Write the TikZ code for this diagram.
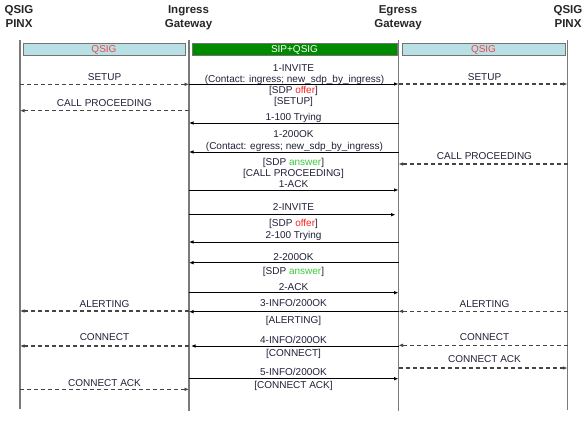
\documentclass[tikz,border=0pt]{standalone}
\usepackage{fontspec}
\setmainfont{Liberation Sans}
\usetikzlibrary{arrows.meta}
\definecolor{txt}{HTML}{202038}
\definecolor{life}{HTML}{7A7A7A}
\definecolor{qbar}{HTML}{B9E0E4}
\definecolor{qred}{HTML}{F04848}
\definecolor{sipgreen}{HTML}{008A00}
\definecolor{offerred}{HTML}{FF2020}
\definecolor{answergreen}{HTML}{3CC83C}
\definecolor{dashc}{HTML}{454545}
\begin{document}
\begin{tikzpicture}[x=1pt,y=-1pt,
  hdr/.style={font=\fontsize{11.5}{13}\selectfont\bfseries,text=black!85,inner sep=0pt,anchor=base},
  lbl/.style={font=\fontsize{10}{11}\selectfont,text=txt,inner sep=0pt,anchor=base},
  lifeline/.style={draw=life,line width=1.1pt},
  bar/.style={draw=black!55,line width=0.9pt},
  sol/.style={draw=black,line width=0.9pt,-{Latex[length=4.5pt,width=3.6pt]}},
  dsh/.style={draw=dashc,line width=1.1pt,dash pattern=on 4pt off 3pt,-{Latex[length=4.5pt,width=3.6pt]}}]
\useasboundingbox (0,0) rectangle (588,420);
% headers
\node[hdr] (h1a) at (19,14) {QSIG};
\node[hdr] (h1b) at (19,28) {PINX};
\node[hdr] (h2a) at (188.5,14) {Ingress};
\node[hdr] (h2b) at (188.5,28) {Gateway};
\node[hdr] (h3a) at (398,14) {Egress};
\node[hdr] (h3b) at (398,28) {Gateway};
\node[hdr] (h4a) at (568,14) {QSIG};
\node[hdr] (h4b) at (568,28) {PINX};
% lifelines
\coordinate (pa) at (20,40);
\coordinate (ig) at (189,40);
\coordinate (eg) at (398.5,40);
\coordinate (pb) at (567.5,40);
\draw[lifeline] (pa) -- (pa |- 0,409);
\draw[lifeline] (ig) -- (ig |- 0,410.5);
\draw[lifeline] (eg) -- (eg |- 0,410.5);
\draw[lifeline] (pb) -- (pb |- 0,409.5);
% bars
\draw[bar,fill=qbar] (23,43) rectangle (185,55);
\draw[bar,fill=sipgreen] (192,43) rectangle (397,55);
\draw[bar,fill=qbar] (402,43) rectangle (565,55);
\node[lbl,text=qred,anchor=center] (b1) at (104,49.5) {QSIG};
\node[lbl,text=white,anchor=center] (b2) at (294.5,49.5) {SIP+QSIG};
\node[lbl,text=qred,anchor=center] (b3) at (483.5,49.5) {QSIG};
% left side QSIG
\node[lbl] (l1) at (104.5,80.8) {SETUP};
\draw[dsh] (pa |- 0,84.3) -- (ig |- 0,84.3);
\node[lbl] (l2) at (104.5,106.3) {CALL PROCEEDING};
\draw[dsh] (ig |- 0,110.7) -- (pa |- 0,110.7);
\node[lbl] (l3) at (104.5,307) {ALERTING};
\draw[dsh] (ig |- 0,311) -- (pa |- 0,311);
\node[lbl] (l4) at (104.5,340.3) {CONNECT};
\draw[dsh] (ig |- 0,346) -- (pa |- 0,346);
\node[lbl] (l5) at (104.5,386.6) {CONNECT ACK};
\draw[dsh] (pa |- 0,389.3) -- (ig |- 0,389.3);
% right side QSIG
\node[lbl] (r1) at (484.5,80) {SETUP};
\draw[dsh] (eg |- 0,84) -- (pb |- 0,84);
\node[lbl] (r2) at (484.5,159.6) {CALL PROCEEDING};
\draw[dsh] (pb |- 0,164) -- (eg |- 0,164);
\node[lbl] (r3) at (484.5,307.6) {ALERTING};
\draw[dsh] (pb |- 0,311.3) -- (eg |- 0,311.3);
\node[lbl] (r4) at (484.5,340.3) {CONNECT};
\draw[dsh] (pb |- 0,345.3) -- (eg |- 0,345.3);
\node[lbl] (r5) at (484.5,362.3) {CONNECT ACK};
\draw[dsh] (eg |- 0,368) -- (pb |- 0,368);
% middle SIP
\node[lbl] (m1) at (293.5,71.5) {1-INVITE};
\node[lbl] (m1b) at (294.5,82.3) {(Contact: ingress; new\_sdp\_by\_ingress)};
\draw[sol] (ig |- 0,84) -- (eg |- 0,84);
\node[lbl] (m1c) at (293.5,93.5) {[SDP \textcolor{offerred}{offer}]};
\node[lbl] (m1d) at (293.5,104) {[SETUP]};
\node[lbl] (m2) at (293.5,120.6) {1-100 Trying};
\draw[sol] (eg |- 0,123) -- (ig |- 0,123);
\node[lbl] (m3) at (293.5,137.5) {1-200OK};
\node[lbl] (m3b) at (294.5,149.5) {(Contact: egress; new\_sdp\_by\_ingress)};
\draw[sol] (eg |- 0,152) -- (ig |- 0,152);
\node[lbl] (m3c) at (293.5,165.3) {[SDP \textcolor{answergreen}{answer}]};
\node[lbl] (m3d) at (293.5,176.6) {[CALL PROCEEDING]};
\node[lbl] (m4) at (293.5,187.5) {1-ACK};
\draw[sol] (ig |- 0,190) -- (eg |- 0,190);
\node[lbl] (m5) at (293.5,210.6) {2-INVITE};
\draw[sol,shorten >=3pt] (ig |- 0,214.7) -- (eg |- 0,214.7);
\node[lbl] (m5b) at (293.5,226.9) {[SDP \textcolor{offerred}{offer}]};
\node[lbl] (m6) at (293.5,238.8) {2-100 Trying};
\draw[sol] (eg |- 0,242) -- (ig |- 0,242);
\node[lbl] (m7) at (293.5,260.2) {2-200OK};
\draw[sol] (eg |- 0,262.7) -- (ig |- 0,262.7);
\node[lbl] (m7b) at (293.5,274.3) {[SDP \textcolor{answergreen}{answer}]};
\node[lbl] (m8) at (293.5,290.6) {2-ACK};
\draw[sol] (ig |- 0,292.7) -- (eg |- 0,292.7);
\node[lbl] (m9) at (293.5,306.6) {3-INFO/200OK};
\draw[sol] (eg |- 0,311.7) -- (ig |- 0,311.7);
\node[lbl] (m9b) at (293.5,323.6) {[ALERTING]};
\node[lbl] (m10) at (293.5,343.3) {4-INFO/200OK};
\draw[sol,shorten >=2pt] (eg |- 0,346) -- (ig |- 0,346);
\node[lbl] (m10b) at (293.5,356.6) {[CONNECT]};
\node[lbl] (m11) at (293.5,375.4) {5-INFO/200OK};
\draw[sol] (ig |- 0,378.7) -- (eg |- 0,378.7);
\node[lbl] (m11b) at (293.5,388.9) {[CONNECT ACK]};
\end{tikzpicture}
\end{document}
